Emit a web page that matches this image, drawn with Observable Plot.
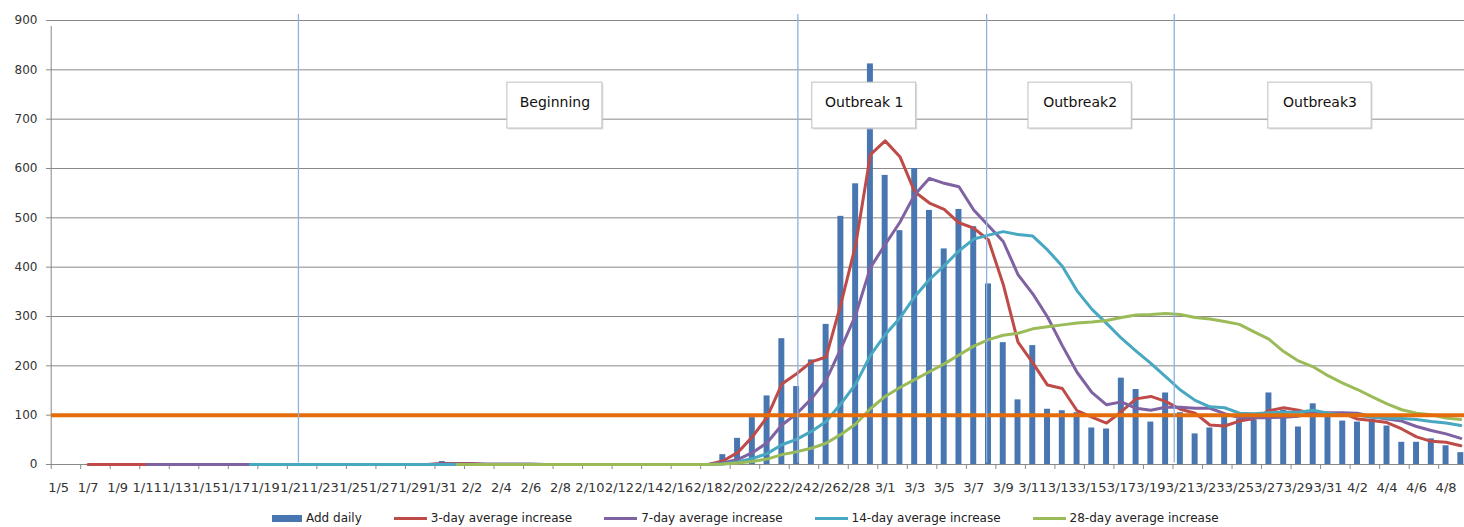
<!DOCTYPE html>
<html>
<head>
<meta charset="utf-8">
<script src="https://cdn.jsdelivr.net/npm/d3@7"></script>
<script src="https://cdn.jsdelivr.net/npm/@observablehq/plot@0.6"></script>
<style>
  html, body { margin: 0; padding: 0; background: #fff; overflow: hidden; }
  body { font-family: "DejaVu Sans", Verdana, sans-serif; }
  #legend { position: relative; height: 22px; font-size: 12px; color: #222; }
  #legend .row { display: flex; align-items: center; height: 26px; padding-left: 272px; }
  #legend .item { display: flex; align-items: center; margin-right: 32px; white-space: nowrap; }
  #legend .sw { display: inline-block; margin-right: 4px; }
</style>
</head>
<body>
<div id="chart"></div>
<div id="legend"></div>
<script>
// ---- data (Jan 5 2020 .. Apr 9 2020, one value per day) ----
const firstDay = "2020-01-05";
const endDay = "2020-04-10"; // exclusive

const daily = [
  0,0,0,0,0,0,0,0,0,0, 0,0,0,0,0,0,0,0,0,0, 0,0,0,0,0,0, 6,
  0,0,0,0,0,0,0,0,0,0, 0,0,0,0,0,0,0,0,
  20,53,95,139,255,158,212,284,503,569,
  812,586,474,600,515,437,517,482,366,247,
  131,241,112,109,105,74,72,175,152,86,
  145,105,62,74,98,92,90,145,110,76,
  123,102,88,86,92,78,45,45,52,38,
  24
];

const avg3 = [
  null,null,
  0,0,0,0,0,0,0,0,0,0, 0,0,0,0,0,0,0,0,0,0, 0,0,0,0,
  2,2,2,
  0,0,0,0,0,0,0,0,0,0, 0,0,0,0,0,0,
  7,24,56,96,163,184,208,218,325,445,
  628,656,624,553,530,517,490,479,455,365,
  248,206,161,154,109,96,84,107,133,138,
  128,112,104,80,78,88,93,109,115,110,
  103,100,104,92,89,85,72,56,47,45,
  38
];

const avg7 = [
  null,null,null,null,null,null,
  0,0,0,0,0,0,0,0,0,0, 0,0,0,0,0,0,0,0,0,0,
  1,1,1,1,1,1,1,
  0,0,0,0,0,0,0,0,0,0, 0,0,
  3,10,24,44,80,103,133,171,235,303,
  399,446,491,547,580,570,563,516,484,452,
  385,346,299,241,187,146,121,127,114,110,
  116,116,114,114,103,95,95,95,96,98,
  105,105,105,104,97,92,88,77,69,62,
  53
];

const avg14 = [
  null,null,null,null,null,null,null,null,null,null,null,null,null,
  0,0,0,0,0,0,0,0,0,0, 0,0,0,0,0,0,0,0,0,0,
  0,0,0,0,0,0,0,0,0,0, 0,0,
  1,5,12,22,40,51,67,87,123,163,
  221,263,297,340,375,403,433,457,465,472,
  466,463,435,402,352,315,286,256,230,205,
  178,151,130,117,115,104,103,105,106,106,
  110,104,100,100,96,94,93,91,87,84,
  79
];

const avg28 = [
  null,null,null,null,null,null,null,null,null,null,
  null,null,null,null,null,null,null,null,null,null,
  null,null,null,null,null,null,null,
  0,0,0,0,0,0,0,0,0,0, 0,0,0,0,0,0,0,0,
  1,3,6,11,20,26,33,43,61,82,
  113,138,156,172,188,204,222,240,253,262,
  266,275,279,283,287,289,292,298,303,304,
  306,304,298,295,290,284,269,254,229,210,
  198,180,165,152,137,123,111,104,101,94,
  91
];

const threshold = 100;
const yTicks = [0, 100, 200, 300, 400, 500, 600, 700, 800, 900];

// phase boundaries (hand-drawn vertical lines)
const phaseLines = ["2020-01-21T18:00Z", "2020-02-24T14:00Z", "2020-03-08T09:00Z", "2020-03-21T02:00Z"];

// phase labels (text boxes)
const phaseLabels = ["Beginning", "Outbreak 1", "Outbreak2", "Outbreak3"];
const phaseLabelDates = ["2020-02-08T03:00Z", "2020-02-29T02:00Z", "2020-03-14T17:00Z", "2020-03-30T23:00Z"];
const phaseBoxHalfDays = [3.22, 3.52, 3.5, 3.5];

const seriesNames = ["Add daily", "3-day average increase", "7-day average increase", "14-day average increase", "28-day average increase"];

// ---- styles ----
const colors = {
  daily: "#4776B0",
  avg3: "#BE4B48",
  avg7: "#7F62A1",
  avg14: "#48A7C1",
  avg28: "#9BBB59",
  threshold: "#E46C0A",
  phase: "#8EB1DE",
  grid: "#898989"
};

// ---- build table ----
const DAY = 864e5;
const dates = d3.utcDay.range(new Date(firstDay), new Date(endDay));
const rows = dates.map((d, i) => ({
  date: d,
  next: new Date(+d + DAY),
  mid: new Date(+d + DAY / 2),
  daily: daily[i], avg3: avg3[i], avg7: avg7[i], avg14: avg14[i], avg28: avg28[i]
}));
const tickDates = d3.utcDay.range(new Date(firstDay), new Date(endDay), 2);
const labelDates = tickDates.map(d => new Date(+d + DAY / 2));
const fmt = d => `${d.getUTCMonth() + 1}/${d.getUTCDate()}`;

const boxes = phaseLabels.map((label, i) => {
  const c = new Date(phaseLabelDates[i]);
  return {label, c, x1: new Date(+c - phaseBoxHalfDays[i] * DAY), x2: new Date(+c + phaseBoxHalfDays[i] * DAY)};
});
const vlines = phaseLines.map(s => new Date(s));

const chart = Plot.plot({
  width: 1464,
  height: 505,
  marginLeft: 51,
  marginRight: 0,
  marginTop: 20,
  marginBottom: 41,
  style: {fontFamily: "DejaVu Sans, Verdana, sans-serif", fontSize: "12px", color: "#333", background: "#fff"},
  x: {type: "utc", domain: [new Date(firstDay), new Date(endDay)], range: [50.7, 1467.7]},
  y: {domain: [0, 900]},
  marks: [
    Plot.ruleY(yTicks, {stroke: colors.grid, strokeWidth: 1}),
    Plot.ruleX([new Date(firstDay)], {y1: 0, y2: 900, stroke: colors.grid, insetBottom: -6}),
    Plot.axisY(yTicks, {tickSize: 5, tickPadding: 9, stroke: colors.grid, fill: "#333", fontSize: 12}),
    Plot.axisX(tickDates, {tickSize: 5, tickFormat: () => "", stroke: colors.grid}),
    Plot.axisX(labelDates, {tickSize: 0, tickPadding: 18, tickFormat: fmt, fill: "#333", fontSize: 13}),
    Plot.rectY(rows, {x1: "date", x2: "next", y: "daily", fill: colors.daily, insetLeft: 4.4, insetRight: 4.4}),
    Plot.line(rows, {x: "mid", y: "avg3", stroke: colors.avg3, strokeWidth: 3, strokeLinejoin: "round"}),
    Plot.line(rows, {x: "mid", y: "avg7", stroke: colors.avg7, strokeWidth: 3, strokeLinejoin: "round"}),
    Plot.line(rows, {x: "mid", y: "avg14", stroke: colors.avg14, strokeWidth: 3, strokeLinejoin: "round"}),
    Plot.line(rows, {x: "mid", y: "avg28", stroke: colors.avg28, strokeWidth: 3, strokeLinejoin: "round"}),
    Plot.rect(boxes, {x1: "x1", x2: "x2", y1: 681, y2: 774, fill: "#cfcfcf", dx: 1.5, dy: 1.5, fillOpacity: 0.6}),
    Plot.rect(boxes, {x1: "x1", x2: "x2", y1: 681, y2: 774, fill: "white", stroke: "#BFBFBF", strokeWidth: 1}),
    Plot.text(boxes, {x: "c", y: 734, text: "label", fontSize: 14, fill: "#111", textAnchor: "middle", lineAnchor: "middle"}),
    Plot.ruleY([threshold], {stroke: colors.threshold, strokeWidth: 4}),
    Plot.ruleX(vlines, {y1: 3, y2: 912, stroke: colors.phase, strokeWidth: 1.3})
  ]
});
document.getElementById("chart").appendChild(chart);

// ---- legend ----
const legendKeys = ["daily", "avg3", "avg7", "avg14", "avg28"];
const row = document.createElement("div");
row.className = "row";
seriesNames.forEach((name, i) => {
  const item = document.createElement("span");
  item.className = "item";
  const sw = document.createElement("span");
  sw.className = "sw";
  sw.style.background = colors[legendKeys[i]];
  if (i === 0) { sw.style.width = "30px"; sw.style.height = "7px"; }
  else { sw.style.width = "33px"; sw.style.height = "3px"; }
  const t = document.createElement("span");
  t.textContent = name;
  item.appendChild(sw);
  item.appendChild(t);
  row.appendChild(item);
});
document.getElementById("legend").appendChild(row);
</script>
</body>
</html>
